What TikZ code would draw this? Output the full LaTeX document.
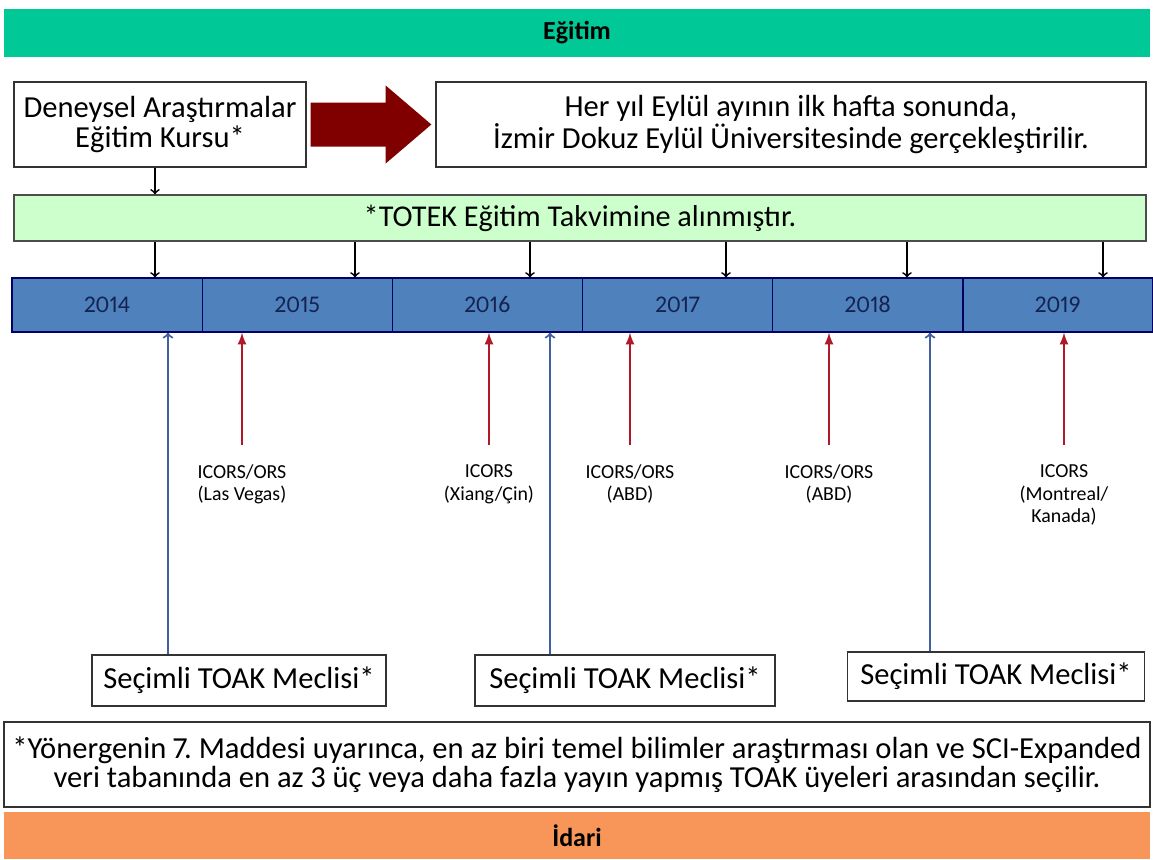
\documentclass[tikz,border=0pt]{standalone}
\usepackage{fontspec}
\setmainfont[Numbers={Lining,Proportional}]{Carlito}
\usetikzlibrary{positioning}
\frenchspacing

\definecolor{egitimgreen}{RGB}{0,200,150}
\definecolor{bandgreen}{RGB}{204,255,204}
\definecolor{yearblue}{RGB}{79,129,189}
\definecolor{yeartext}{RGB}{20,35,80}
\definecolor{bigred}{RGB}{128,0,0}
\definecolor{confred}{RGB}{175,25,40}
\definecolor{meclisblue}{RGB}{65,95,160}
\definecolor{idariorange}{RGB}{248,150,90}

\tikzset{
    whitebox/.style={draw=black!80, fill=white, line width=0.8pt, align=center,
        inner sep=0pt, font=\fontsize{17.4}{16.8}\selectfont},
    header/.style={minimum width=22.92cm, minimum height=0.96cm, inner sep=0pt,
        font=\fontsize{14.8}{16}\selectfont\bfseries},
    yearbox/.style={draw=black!60!blue, fill=yearblue, line width=0.7pt,
        minimum width=3.803cm, minimum height=1.08cm, inner sep=0pt,
        text height=9pt, text depth=0pt,
        text=yeartext, font=\fontsize{13.6}{15}\selectfont},
    conflabel/.style={align=center, anchor=north, inner sep=0pt,
        font=\fontsize{11.3}{13}\selectfont},
    downarrow/.style={->, line width=1pt, black},
    confarrow/.style={-latex, line width=1.3pt, confred},
    meclisarrow/.style={->, line width=1.2pt, meclisblue},
}

\begin{document}
\begin{tikzpicture}[x=0.02cm, y=-0.02cm]

\useasboundingbox (0,0) rectangle (1153,859);

% Top and bottom bands
\node[header, fill=egitimgreen] (egitim) at (577,33) {Eğitim};
\node[header, fill=idariorange, minimum height=0.94cm] (idari) at (577,835.5) {İdari};

% Training course and place
\node[whitebox, minimum width=5.84cm, minimum height=1.70cm] (kurs) at (160,124.5)
    {Deneysel Araştırmalar\\Eğitim Kursu*};
\node[whitebox, minimum width=14.2cm, minimum height=1.70cm] (yer) at (791,124.5)
    {Her yıl Eylül ayının ilk hafta sonunda,\\İzmir Dokuz Eylül Üniversitesinde gerçekleştirilir.};

% Big arrow between them
\fill[bigred] ([shift={(4,-22)}]kurs.east) -- ([shift={(79,-22)}]kurs.east)
    -- ([shift={(79,-39)}]kurs.east) -- ([shift={(-4,0)}]yer.west)
    -- ([shift={(79,39)}]kurs.east) -- ([shift={(79,22)}]kurs.east)
    -- ([shift={(4,22)}]kurs.east) -- cycle;

% Calendar band
\node[draw=black!70, fill=bandgreen, line width=0.8pt, minimum width=22.64cm,
    minimum height=0.92cm, inner sep=0pt, font=\fontsize{17.2}{18}\selectfont]
    (takvim) at (580,218) {*TOTEK Eğitim Takvimine alınmıştır.};
\draw[downarrow] (kurs.south -| 155,0) -- (takvim.north -| 155,0);

% Years
\foreach \yr [count=\i from 0] in {2014,2015,2016,2017,2018,2019} {
    \node[yearbox] (y\yr) at (107.1+190.17*\i,305) {\yr};
}

% Arrows from calendar band to the years
\foreach \xa in {155,355,530,726,907,1103} {
    \draw[downarrow] (takvim.south -| \xa,0) -- (y2014.north -| \xa,0);
}

% Congress labels
\node[conflabel] (c2015) at (242,464) {ICORS/ORS\\(Las Vegas)};
\node[conflabel] (c2016) at (489,464) {ICORS\\(Xiang/Çin)};
\node[conflabel] (c2017) at (630,464) {ICORS/ORS\\(ABD)};
\node[conflabel] (c2018) at (829,464) {ICORS/ORS\\(ABD)};
\node[conflabel] (c2019) at (1064,464) {ICORS\\(Montreal/\\Kanada)};

\foreach \yr in {2015,2016,2017,2018,2019} {
    \draw[confarrow] ([yshift=11]c\yr.north) -- (c\yr.north |- y2014.south);
}

% Elected assembly boxes
\node[whitebox, minimum width=5.88cm, minimum height=1.02cm] (m1) at (239,680.5)
    {Seçimli TOAK Meclisi*};
\node[whitebox, minimum width=6.0cm, minimum height=1.02cm] (m2) at (625,680.5)
    {Seçimli TOAK Meclisi*};
\node[whitebox, minimum width=5.94cm, minimum height=0.98cm] (m3) at (996,676.5)
    {Seçimli TOAK Meclisi*};

\draw[meclisarrow] (m1.north -| 168,0) -- (y2014.south -| 168,0);
\draw[meclisarrow] (m2.north -| 550,0) -- (y2014.south -| 550,0);
\draw[meclisarrow] (m3.north -| 930,0) -- (y2014.south -| 930,0);

% Footnote
\node[whitebox, minimum width=22.92cm, minimum height=1.70cm, font=\fontsize{17.4}{16.4}\selectfont]
    (dipnot) at (577,764.5)
    {*Yönergenin 7. Maddesi uyarınca, en az biri temel bilimler araştırması olan ve SCI-Expanded\\
     veri tabanında en az 3 üç veya daha fazla yayın yapmış TOAK üyeleri arasından seçilir.};

\end{tikzpicture}
\end{document}
